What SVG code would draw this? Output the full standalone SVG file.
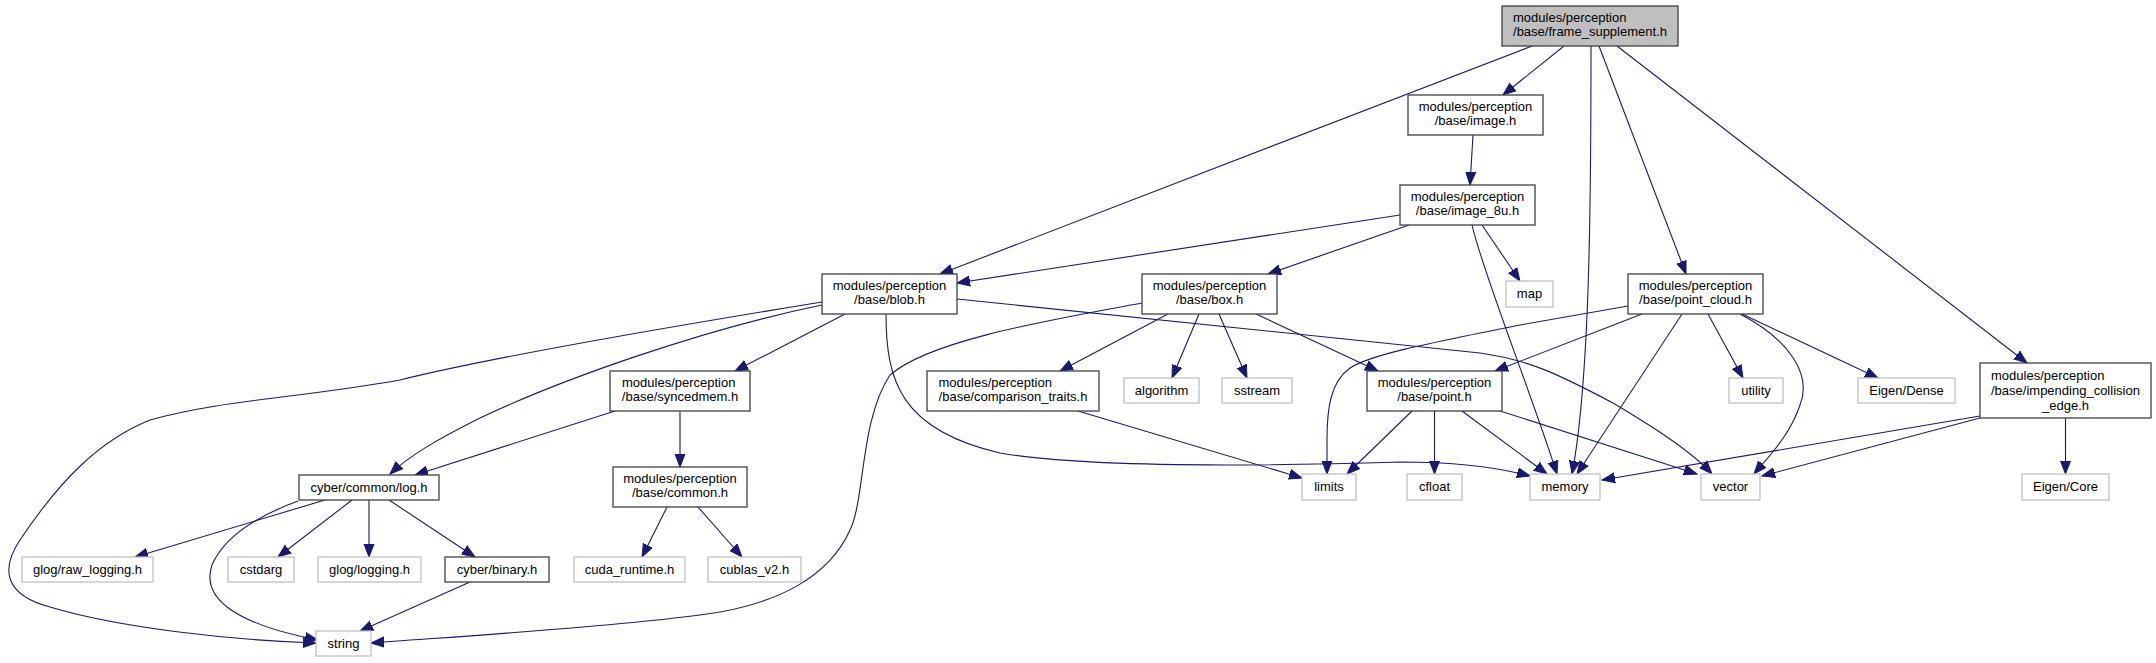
<svg xmlns="http://www.w3.org/2000/svg" width="2156" height="663" viewBox="0 0 2156 663">
<defs>
<style>
.n rect{fill:#fff;stroke:#404040;stroke-width:1.3}
.g rect{fill:#fff;stroke:#c0c0c0;stroke-width:1.3}
#n_frame rect{fill:#bfbfbf}
text{font-family:"Liberation Sans",Arial,Helvetica,sans-serif;font-size:13px;fill:#000}
.m{text-anchor:middle}
.e path{fill:none;stroke:#191970;stroke-width:1.1;marker-end:url(#arr)}
</style>
<marker id="arr" markerUnits="userSpaceOnUse" markerWidth="14" markerHeight="12" refX="13" refY="5" orient="auto" viewBox="0 0 14 10">
<path d="M0,0 L13,5 L0,10 z" fill="#191970" stroke="#191970" stroke-width="1"/>
</marker>
</defs>
<rect width="2156" height="663" fill="#fff"/>
<g id="edges" class="e">
<path d="M1564,46 L1503,95"/>
<path d="M1532,46 L940,274"/>
<path d="M1591,46 C1591,200 1590,380 1572,474"/>
<path d="M1599,46 L1686,274"/>
<path d="M1617,46 L2027,363"/>
<path d="M1473,135 L1470,185"/>
<path d="M1400,215 L957,283"/>
<path d="M1409,225 L1268,274"/>
<path d="M1482,225 L1520,281"/>
<path d="M1472,225 C1482,270 1530,390 1557,474"/>
<path d="M822,302 C650,330 480,360 400,380 C300,398 220,400 150,420 C100,440 60,480 20,540 C0,570 5,595 50,607 C120,628 230,640 316,643"/>
<path d="M822,305 C700,330 560,380 480,418 C440,438 410,455 390,474"/>
<path d="M845,314 L735,371"/>
<path d="M886,314 C886,380 900,430 1000,453 C1100,470 1300,465 1400,462 C1460,462 1500,468 1530,476"/>
<path d="M957,299 L1480,353 C1530,360 1560,375 1613,403 C1650,425 1690,450 1712,474"/>
<path d="M1142,303 C1050,320 930,340 890,375 C860,420 865,500 850,530 C830,575 780,605 700,615 C600,628 450,637 371,643"/>
<path d="M1168,314 L1060,371"/>
<path d="M1199,314 L1172,378"/>
<path d="M1219,314 L1247,378"/>
<path d="M1256,314 L1378,371"/>
<path d="M1628,306 L1520,325 C1420,345 1370,355 1350,368 C1330,382 1327,410 1327,440 L1327,474"/>
<path d="M1642,314 L1495,371"/>
<path d="M1682,314 L1577,474"/>
<path d="M1708,314 L1743,378"/>
<path d="M1740,314 C1790,340 1812,375 1800,405 C1790,435 1770,455 1754,474"/>
<path d="M1742,314 L1878,378"/>
<path d="M1412,411 L1347,474"/>
<path d="M1434.5,411 L1434.5,474"/>
<path d="M1462,411 L1547,474"/>
<path d="M1497,410 L1697,474"/>
<path d="M1078,411 L1302,478"/>
<path d="M615,411 L415,475"/>
<path d="M680,411 L680,467"/>
<path d="M667,507 L642,557"/>
<path d="M698,507 L742,557"/>
<path d="M325,500 L135,557"/>
<path d="M298,501 C260,515 225,535 212,565 C200,600 240,625 318,640"/>
<path d="M352,500 L278,557"/>
<path d="M369,500 L369,557"/>
<path d="M389,500 L475,557"/>
<path d="M470,582 L360,631"/>
<path d="M1980,416 L1602,480"/>
<path d="M1980,418 L1762,476"/>
<path d="M2065.5,418 L2065.5,474"/>
</g>
<g id="n_frame" class="n"><rect x="1502" y="6" width="176" height="40"/><text x="1513" y="22">modules/perception</text><text class="m" x="1590" y="36">/base/frame_supplement.h</text></g>
<g id="n_image" class="n"><rect x="1408" y="95" width="135" height="40"/><text class="m" x="1475.5" y="111">modules/perception</text><text class="m" x="1475.5" y="125">/base/image.h</text></g>
<g id="n_image8u" class="n"><rect x="1400" y="185" width="135" height="40"/><text class="m" x="1467.5" y="201">modules/perception</text><text class="m" x="1467.5" y="215">/base/image_8u.h</text></g>
<g id="n_blob" class="n"><rect x="822" y="274" width="135" height="40"/><text class="m" x="889.5" y="290">modules/perception</text><text class="m" x="889.5" y="304">/base/blob.h</text></g>
<g id="n_box" class="n"><rect x="1142" y="274" width="135" height="40"/><text class="m" x="1209.5" y="290">modules/perception</text><text class="m" x="1209.5" y="304">/base/box.h</text></g>
<g id="n_map" class="g"><rect x="1506" y="281" width="47" height="26"/><text class="m" x="1529.5" y="298">map</text></g>
<g id="n_pointcloud" class="n"><rect x="1628" y="274" width="135" height="40"/><text class="m" x="1695.5" y="290">modules/perception</text><text class="m" x="1695.5" y="304">/base/point_cloud.h</text></g>
<g id="n_syncedmem" class="n"><rect x="610" y="371" width="140" height="40"/><text x="622" y="387">modules/perception</text><text class="m" x="680" y="401">/base/syncedmem.h</text></g>
<g id="n_comparison" class="n"><rect x="927" y="371" width="172" height="40"/><text x="938.5" y="387">modules/perception</text><text class="m" x="1013" y="401">/base/comparison_traits.h</text></g>
<g id="n_algorithm" class="g"><rect x="1124" y="378" width="75" height="25"/><text class="m" x="1161.5" y="395">algorithm</text></g>
<g id="n_sstream" class="g"><rect x="1222" y="378" width="70" height="25"/><text class="m" x="1257" y="395">sstream</text></g>
<g id="n_point" class="n"><rect x="1367" y="371" width="135" height="40"/><text class="m" x="1434.5" y="387">modules/perception</text><text class="m" x="1434.5" y="401">/base/point.h</text></g>
<g id="n_utility" class="g"><rect x="1729" y="378" width="54" height="25"/><text class="m" x="1756" y="395">utility</text></g>
<g id="n_eigendense" class="g"><rect x="1858" y="378" width="97" height="25"/><text class="m" x="1906.5" y="395">Eigen/Dense</text></g>
<g id="n_impending" class="n"><rect x="1980" y="363" width="171" height="55"/><text x="1991" y="379.5">modules/perception</text><text x="1991" y="394.5">/base/impending_collision</text><text class="m" x="2065.5" y="409.5">_edge.h</text></g>
<g id="n_log" class="n"><rect x="299" y="475" width="140" height="25"/><text class="m" x="369" y="491.5">cyber/common/log.h</text></g>
<g id="n_common" class="n"><rect x="613" y="467" width="134" height="40"/><text class="m" x="680" y="483">modules/perception</text><text class="m" x="680" y="497">/base/common.h</text></g>
<g id="n_limits" class="g"><rect x="1302" y="474" width="54" height="26"/><text class="m" x="1329" y="491">limits</text></g>
<g id="n_cfloat" class="g"><rect x="1407" y="474" width="55" height="26"/><text class="m" x="1434.5" y="491">cfloat</text></g>
<g id="n_memory" class="g"><rect x="1530" y="474" width="70" height="26"/><text class="m" x="1565" y="491">memory</text></g>
<g id="n_vector" class="g"><rect x="1701" y="474" width="59" height="26"/><text class="m" x="1730.5" y="491">vector</text></g>
<g id="n_eigencore" class="g"><rect x="2022" y="474" width="87" height="26"/><text class="m" x="2065.5" y="491">Eigen/Core</text></g>
<g id="n_rawlogging" class="g"><rect x="22" y="557" width="131" height="25"/><text class="m" x="87.5" y="574">glog/raw_logging.h</text></g>
<g id="n_cstdarg" class="g"><rect x="228" y="557" width="66" height="25"/><text class="m" x="261" y="574">cstdarg</text></g>
<g id="n_logging" class="g"><rect x="318" y="557" width="103" height="25"/><text class="m" x="369.5" y="574">glog/logging.h</text></g>
<g id="n_binary" class="n"><rect x="445" y="557" width="104" height="25"/><text class="m" x="497" y="574">cyber/binary.h</text></g>
<g id="n_cuda" class="g"><rect x="574" y="557" width="111" height="25"/><text class="m" x="629.5" y="574">cuda_runtime.h</text></g>
<g id="n_cublas" class="g"><rect x="708" y="557" width="93" height="25"/><text class="m" x="754.5" y="574">cublas_v2.h</text></g>
<g id="n_string" class="g"><rect x="316" y="631" width="55" height="25"/><text class="m" x="343.5" y="648">string</text></g>
</svg>
